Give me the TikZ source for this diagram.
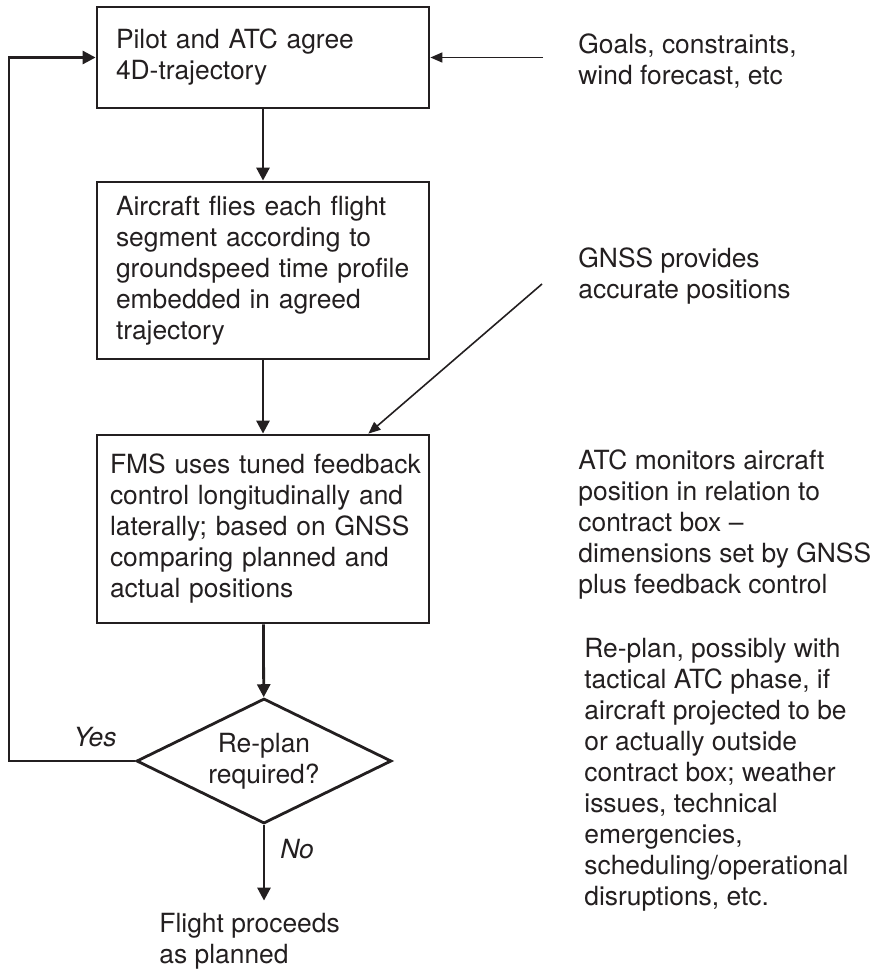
\documentclass[tikz,border=0pt]{standalone}
\usepackage{fontspec}
\setmainfont{TeX Gyre Heros}
\usetikzlibrary{shapes.geometric,arrows.meta}

\definecolor{ink}{RGB}{35,31,32}

\tikzset{
  box/.style={draw, line width=1.4pt, minimum width=166pt, inner sep=0pt, align=left},
  decision/.style={draw, diamond, line width=1.4pt, aspect=2, minimum width=127.5pt,
    minimum height=62.5pt, inner sep=0pt, align=center},
  note/.style={anchor=west, inner sep=0pt, align=left},
  flow/.style={line width=1.4pt, -{Triangle[length=6.5pt,width=6.5pt]}},
  feed/.style={line width=0.8pt, -{Triangle[length=6pt,width=5pt]}},
}

\begin{document}
\begin{tikzpicture}[x=0.5pt, y=-0.5pt, color=ink, font=\fontsize{13.2}{15.5}\selectfont]
\useasboundingbox (0,0) rectangle (877,969);

\node[box, text width=147pt, minimum height=50.5pt] (agree) at (263,57.5)
  {Pilot and ATC agree\\4D-trajectory};
\node[box, text width=147pt, minimum height=88.5pt] (fly) at (263,270.5)
  {Aircraft flies each flight\\segment according to\\groundspeed time profile\\embedded in agreed\\trajectory};
\node[box, text width=153pt, minimum height=94pt] (fms) at (263,529)
  {\mbox{FMS uses tuned feedback}\\control longitudinally and\\laterally; based on GNSS\\comparing planned and\\actual positions};
\node[decision] (replan) at (264,761) {Re-plan\\required?};
\node[note] (done) at (159,941) {Flight proceeds\\as planned};

\node (yes) at (95,737) {\itshape Yes};
\node (no) at (297,849) {\itshape No};

\node[note] (goals) at (578,61) {Goals, constraints,\\wind forecast, etc};
\node[note] (gnss) at (578,276) {GNSS provides\\accurate positions};
\node[note] (monitor) at (578,525) {ATC monitors aircraft\\position in relation to\\contract box --\\dimensions set by GNSS\\plus feedback control};
\node[note] (reason) at (584,775) {Re-plan, possibly with\\tactical ATC phase, if\\aircraft projected to be\\or actually outside\\contract box; weather\\issues, technical\\emergencies,\\scheduling/operational\\disruptions, etc.};

\coordinate (loop) at (9,761);
\coordinate (goalsin) at (543,57.5);
\coordinate (gnssin) at (542,284);

\draw[flow] (agree) -- (fly);
\draw[flow] (fly) -- (fms);
\draw[flow] (fms) -- (replan);
\draw[flow] (replan.west) -- (loop) |- (agree.west);
\draw[flow, shorten >=6pt] (replan.south) -- (replan.south |- done.north);

\draw[feed] (goalsin) -- (agree.east);
\draw[feed] (gnssin) -- ([xshift=-31pt]fms.north east);
\end{tikzpicture}
\end{document}
